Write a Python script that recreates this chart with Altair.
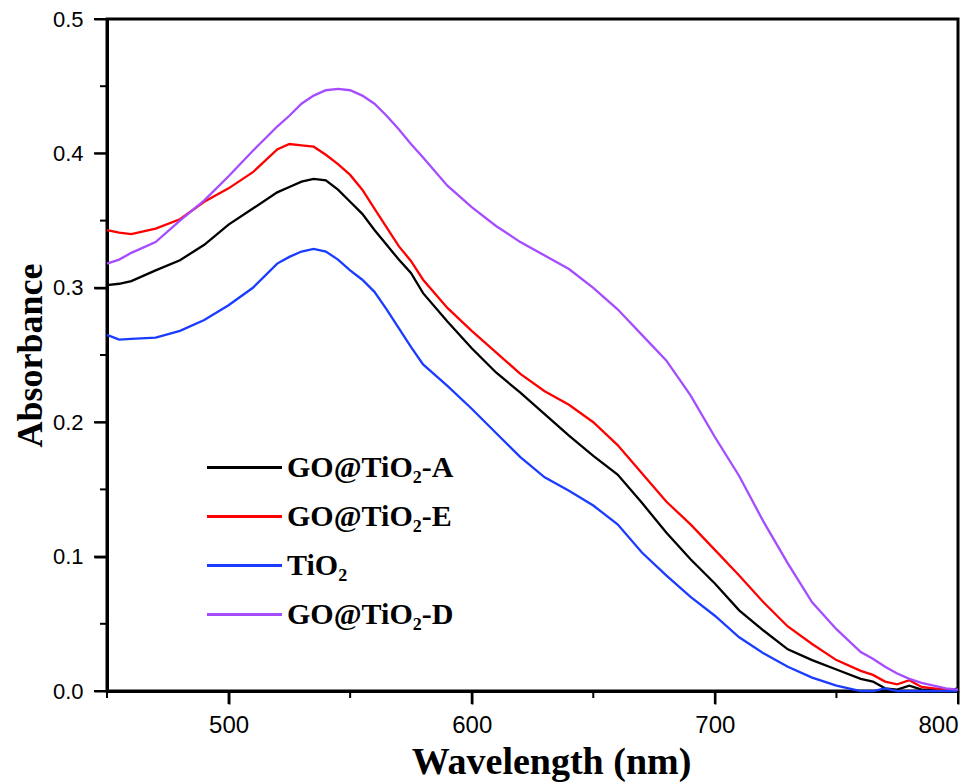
import altair as alt
import pandas as pd

wavelength = [450, 455, 460, 470, 480, 490, 500, 510, 520, 525, 530, 535, 540, 545, 550,
              555, 560, 565, 570, 575, 580, 590, 600, 610, 620, 630, 640, 650, 660, 670,
              680, 690, 700, 710, 720, 730, 740, 750, 760, 765, 770, 775, 780, 785, 790,
              795, 800]

go_tio2_a = [.302, .303, .305, .313, .3205, .332, .347, .359, .371, .375, .379, .381, .380,
             .373, .364, .355, .343, .332, .321, .311, .296, .275, .255, .237, .222, .206,
             .190, .175, .161, .140, .118, .098, .080, .060, .045, .031, .023, .016, .009,
             .007, .002, .001, .004, .001, .001, .000, .002]

go_tio2_e = [.343, .341, .340, .344, .351, .364, .374, .386, .403, .407, .406, .405, .399,
             .392, .384, .373, .359, .345, .331, .320, .306, .285, .268, .252, .236, .223,
             .213, .200, .183, .162, .141, .124, .105, .086, .066, .048, .035, .023, .015,
             .012, .007, .005, .008, .003, .002, .001, .000]

tio2 = [.265, .2615, .262, .263, .268, .276, .287, .300, .318, .323, .327, .329, .327,
        .321, .313, .306, .297, .284, .270, .256, .243, .227, .210, .192, .174, .159,
        .149, .138, .124, .103, .086, .070, .056, .040, .028, .018, .010, .004, .000,
        .000, .002, .000, .000, .000, .000, .000, .000]

go_tio2_d = [.318, .321, .326, .334, .350, .365, .383, .402, .420, .428, .437, .443, .447,
             .448, .447, .443, .437, .428, .418, .407, .397, .376, .360, .346, .334, .324,
             .314, .300, .284, .265, .246, .220, .189, .160, .126, .095, .066, .046, .029,
             .024, .018, .013, .009, .006, .004, .002, .001]

series_names = ["GO@TiO₂-A", "GO@TiO₂-E", "TiO₂", "GO@TiO₂-D"]
series_colors = ["#000000", "#ff0000", "#1a3cff", "#a64cff"]
series_values = [go_tio2_a, go_tio2_e, tio2, go_tio2_d]

x_major_ticks = [500, 600, 700, 800]
x_minor_ticks = [450, 550, 650, 750]
y_major_ticks = [0, 0.1, 0.2, 0.3, 0.4, 0.5]
y_minor_ticks = [0.05, 0.15, 0.25, 0.35, 0.45]

W, H = 851, 672

rows = []
for name, vals in zip(series_names, series_values):
    for w, v in zip(wavelength, vals):
        rows.append({"Wavelength": w, "Absorbance": v, "Sample": name})
df = pd.DataFrame(rows)

x_scale = alt.Scale(domain=[450, 800], nice=False)
y_scale = alt.Scale(domain=[0, 0.5], nice=False)

lines = alt.Chart(df).mark_line(strokeWidth=2.3).encode(
    x=alt.X(
        "Wavelength:Q",
        scale=x_scale,
        axis=alt.Axis(
            title="Wavelength (nm)",
            values=x_major_ticks,
            ticks=True,
            tickSize=13,
            tickWidth=2,
            tickColor="#000000",
            labelPadding=9,
            labelFontSize=24,
            titleX=444,
            titleY=82,
            titleBaseline="alphabetic",
            titleAlign="center",
        ),
    ),
    y=alt.Y(
        "Absorbance:Q",
        scale=y_scale,
        axis=alt.Axis(
            title="Absorbance",
            values=y_major_ticks,
            format=".1f",
            ticks=True,
            tickSize=13,
            tickWidth=2,
            tickColor="#000000",
            labelPadding=11,
            labelFontSize=22,
            titleX=-66,
            titleFontSize=36,
            titleBaseline="alphabetic",
        ),
    ),
    color=alt.Color(
        "Sample:N",
        scale=alt.Scale(domain=series_names, range=series_colors),
        sort=series_names,
        legend=alt.Legend(
            title=None,
            orient="none",
            legendX=121,
            legendY=432,
            symbolType="M-2.5,0H2.5",
            symbolSize=900,
            symbolStrokeWidth=3,
            labelFont="Liberation Serif",
            labelFontWeight="bold",
            labelFontSize=30,
            labelColor="#000000",
            labelOffset=26,
            labelLimit=400,
            rowPadding=17,
            padding=0,
        ),
    ),
)


def x_ticks_layer(values, length):
    return alt.Chart(pd.DataFrame({"Wavelength": values})).mark_rule(
        color="#000000", strokeWidth=2
    ).encode(
        x=alt.X("Wavelength:Q", scale=x_scale),
        y=alt.value(H),
        y2=alt.value(H + length),
    )


def y_ticks_layer(values, length):
    return alt.Chart(pd.DataFrame({"Absorbance": values})).mark_rule(
        color="#000000", strokeWidth=2
    ).encode(
        y=alt.Y("Absorbance:Q", scale=y_scale),
        x=alt.value(0),
        x2=alt.value(-length),
    )


chart = alt.layer(
    lines,
    x_ticks_layer(x_major_ticks, 13),
    x_ticks_layer(x_minor_ticks, 7),
    y_ticks_layer(y_major_ticks, 13),
    y_ticks_layer(y_minor_ticks, 7),
).properties(
    width=W,
    height=H,
    autosize=alt.AutoSizeParams(type="none"),
    padding={"left": 99, "top": 11, "right": 14, "bottom": 92},
).configure_view(
    stroke="#000000",
    strokeWidth=3,
).configure_axis(
    domainColor="#000000",
    domainWidth=3,
    grid=False,
    labelFont="Liberation Sans",
    labelColor="#000000",
    titleFont="Liberation Serif",
    titleFontWeight="bold",
    titleFontSize=38,
    titleColor="#000000",
)

chart.save("out.html", embed_options={"renderer": "svg", "actions": False})
